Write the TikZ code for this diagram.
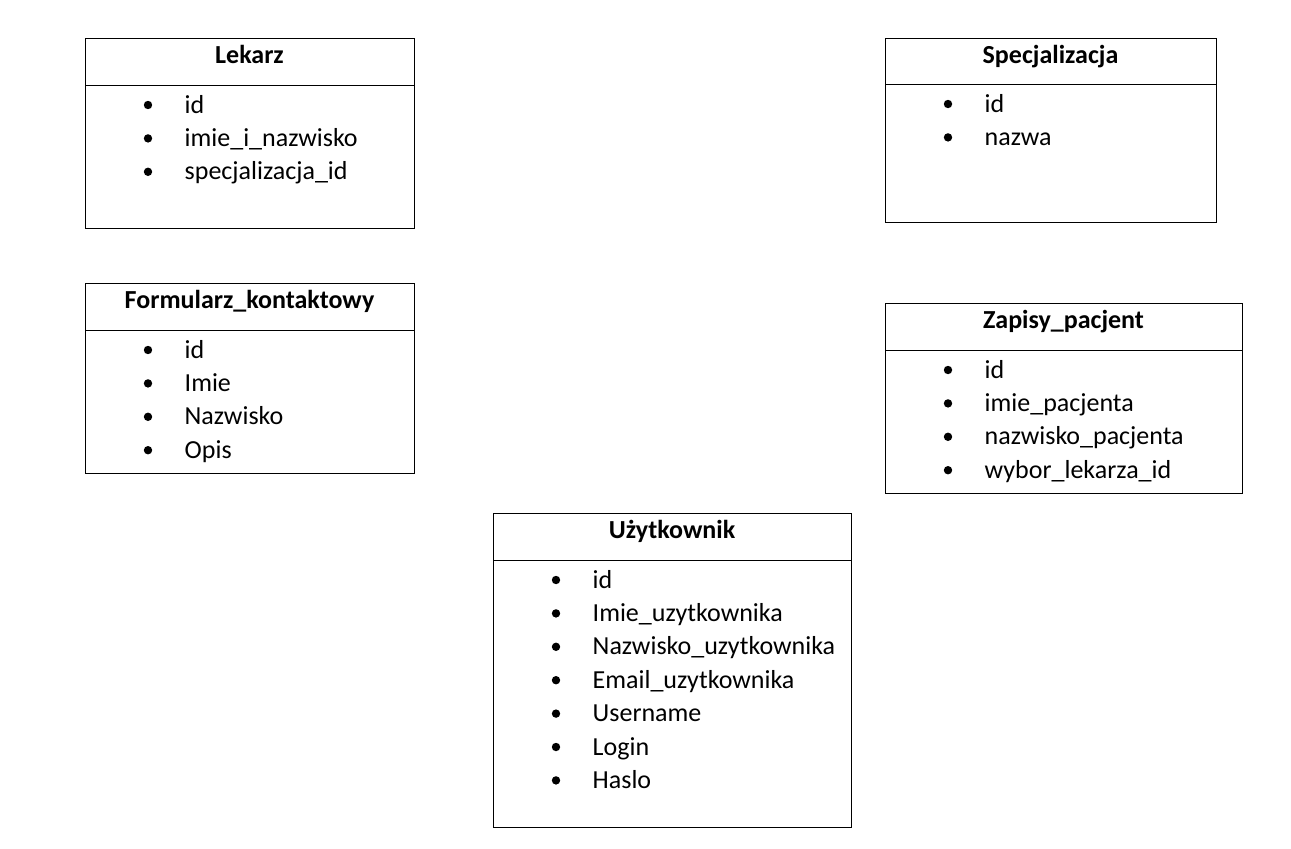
\documentclass[tikz,border=0pt]{standalone}
\usepackage{fontspec}
\setmainfont{Carlito}
\tikzset{
  boxline/.style={draw=black, line width=1pt},
  titletext/.style={font=\fontsize{26}{31}\selectfont\bfseries, anchor=base, inner sep=0pt},
  itemtext/.style={font=\fontsize{26}{31}\selectfont, anchor=base west, inner sep=0pt},
  bulletdot/.style={circle, fill=black, inner sep=0pt, minimum size=8.4pt}
}
% #1 name, #2 x1, #3 y1, #4 x2, #5 y2, #6 divider y, #7 title, #8 items
\newcommand{\erentity}[8]{%
  \node[boxline, rectangle, inner sep=0pt, anchor=north west,
        minimum width={#4-#2}, minimum height={#5-#3}] (#1) at (#2,#3) {};
  \coordinate (#1-dl) at (#2,#6);
  \coordinate (#1-dr) at (#4,#6);
  \draw[boxline] (#1-dl) -- (#1-dr);
  \node[titletext] (#1-title) at ({(#2+#4)/2},{#3+25}) {#7};
  \foreach \t [count=\i] in {#8} {
    \node[bulletdot] (#1-b\i) at ({#2+63},{#6+28+33.4*(\i-1)-8}) {};
    \node[itemtext] (#1-i\i) at ({#2+99.5},{#6+28+33.4*(\i-1)}) {\t};
  }%
}
\begin{document}
\begin{tikzpicture}[x=1pt,y=-1pt]
\useasboundingbox (0,0) rectangle (1291,849);
\erentity{lekarz}{85}{38}{414}{228}{85}{Lekarz}{id,imie\_i\_nazwisko,specjalizacja\_id}
\erentity{spec}{885}{38}{1216}{222}{84}{Specjalizacja}{id,nazwa}
\erentity{form}{85}{283}{414}{473}{330}{Formularz\_kontaktowy}{id,Imie,Nazwisko,Opis}
\erentity{zapisy}{885}{303}{1242}{493}{350}{Zapisy\_pacjent}{id,imie\_pacjenta,nazwisko\_pacjenta,wybor\_lekarza\_id}
\erentity{uzyt}{493}{513}{851}{827}{560}{Użytkownik}{id,Imie\_uzytkownika,Nazwisko\_uzytkownika,Email\_uzytkownika,Username,Login,Haslo}
\end{tikzpicture}
\end{document}
